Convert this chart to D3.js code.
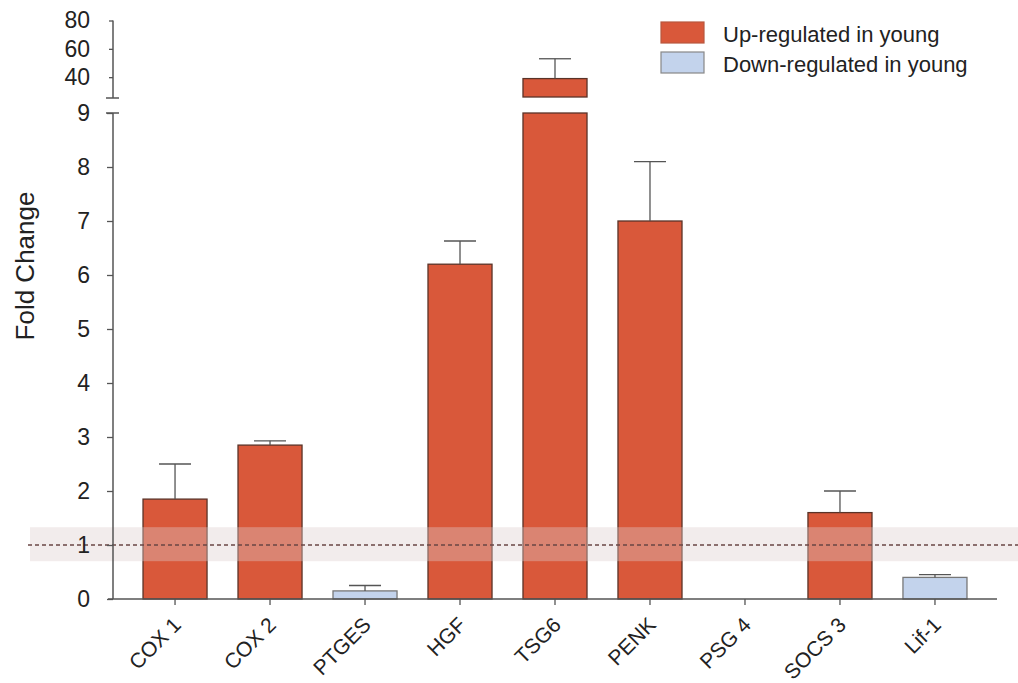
<!DOCTYPE html>
<html><head><meta charset="utf-8">
<script src="https://cdn.jsdelivr.net/npm/d3@7"></script>
<style>body{margin:0;background:#fff}svg{display:block;font-family:"Liberation Sans",Arial,sans-serif}</style>
</head><body><svg id="c" width="1018" height="683"></svg>
<script>
const categories = ["COX 1","COX 2","PTGES","HGF","TSG6","PENK","PSG 4","SOCS 3","Lif-1"];
const values     = [1.85, 2.85, 0.15, 6.2, 39, 7.0, 0, 1.6, 0.4];
const errorTops  = [2.5, 2.93, 0.25, 6.63, 53, 8.1, 0, 2.0, 0.45];
const direction  = ["up","up","down","up","up","up","up","up","down"];
const lowerTicks = [0,1,2,3,4,5,6,7,8,9];
const upperTicks = [40,60,80];
const legendLabels = ["Up-regulated in young","Down-regulated in young"];
const bandRange = [0.7, 1.33];
const refLine = 1;

const svg = d3.select("#c");
const colors = {up:"#d9583a", down:"#c3d3ec"};
const strokes = {up:"#5a3328", down:"#777"};

const x = d3.scaleBand().domain(categories).range([113, 997]).paddingInner(0.326).paddingOuter(0.316);
const yL = d3.scaleLinear().domain([0, 9]).range([599, 113]);
const yU = d3.scaleLinear().domain([25.3, 80]).range([98, 20.5]);

const g = svg.append("g");
categories.forEach((c, i) => {
  const v = values[i];
  const d = direction[i];
  const lowTop = Math.min(v, 9);
  if (v > 0) {
    g.append("rect").attr("x", x(c)).attr("width", x.bandwidth())
      .attr("y", yL(lowTop)).attr("height", yL(0) - yL(lowTop))
      .attr("fill", colors[d]).attr("stroke", strokes[d]).attr("stroke-width", 1.3);
  }
  if (v > 9) {
    g.append("rect").attr("x", x(c)).attr("width", x.bandwidth())
      .attr("y", yU(v)).attr("height", yU(yU.domain()[0]) - yU(v) - 1)
      .attr("fill", colors[d]).attr("stroke", strokes[d]).attr("stroke-width", 1.3);
  }
  if (errorTops[i] > v) {
    const cx = x(c) + x.bandwidth() / 2;
    const yb = v > 9 ? yU(v) : yL(v);
    const yt = errorTops[i] > 9 ? yU(errorTops[i]) : yL(errorTops[i]);
    g.append("line").attr("x1", cx).attr("x2", cx).attr("y1", yb).attr("y2", yt)
      .attr("stroke", "#555").attr("stroke-width", 1.3);
    g.append("line").attr("x1", cx - 16).attr("x2", cx + 16).attr("y1", yt).attr("y2", yt)
      .attr("stroke", "#555").attr("stroke-width", 1.3);
  }
});

svg.append("rect").attr("x", 30).attr("width", 988)
  .attr("y", yL(bandRange[1])).attr("height", yL(bandRange[0]) - yL(bandRange[1]))
  .attr("fill", "rgb(222,204,204)").attr("opacity", 0.38);
svg.append("line").attr("x1", 28).attr("x2", 1018).attr("y1", yL(refLine)).attr("y2", yL(refLine))
  .attr("stroke", "#6a4644").attr("stroke-width", 1.3).attr("stroke-dasharray", "4,3");

const axisColor = "#555";
const lowerAxis = svg.append("g").attr("transform", "translate(113,0)")
  .call(d3.axisLeft(yL).tickValues(lowerTicks).tickSize(6).tickPadding(17).tickFormat(d3.format("d")));
const upperAxis = svg.append("g").attr("transform", "translate(113,0)")
  .call(d3.axisLeft(yU).tickValues(upperTicks).tickSize(4).tickPadding(19).tickFormat(d3.format("d")));
[lowerAxis, upperAxis].forEach(a => {
  a.select(".domain").remove();
  a.selectAll("line").attr("stroke", axisColor).attr("stroke-width", 1.3);
  a.selectAll("text").attr("font-size", 23).attr("fill", "#222").attr("font-family", "Liberation Sans, Arial, sans-serif");
});
svg.append("line").attr("x1", 113).attr("x2", 113).attr("y1", yL(9)).attr("y2", yL(0)).attr("stroke", axisColor).attr("stroke-width", 1.5);
svg.append("line").attr("x1", 113).attr("x2", 113).attr("y1", yU(80)).attr("y2", 98).attr("stroke", axisColor).attr("stroke-width", 1.5);
svg.append("line").attr("x1", 106).attr("x2", 119).attr("y1", 98).attr("y2", 98).attr("stroke", axisColor).attr("stroke-width", 1.5);
svg.append("line").attr("x1", 106).attr("x2", 119).attr("y1", yL(9)).attr("y2", yL(9)).attr("stroke", axisColor).attr("stroke-width", 1.5);

const xAxis = svg.append("g").attr("transform", `translate(0,${yL(0)})`)
  .call(d3.axisBottom(x).tickSize(6).tickSizeOuter(0));
xAxis.select(".domain").attr("stroke", axisColor).attr("stroke-width", 1.5).attr("d", "M108,0H997");
xAxis.selectAll("line").attr("stroke", axisColor).attr("stroke-width", 1.3);
xAxis.selectAll("text").attr("font-size", 21).attr("fill", "#222")
  .attr("font-family", "Liberation Sans, Arial, sans-serif")
  .attr("text-anchor", "end").attr("dy", "0.35em")
  .attr("transform", "translate(2,22) rotate(-45)").attr("y", 0).attr("x", 0);

svg.append("text").attr("transform", "translate(34,266) rotate(-90)")
  .attr("text-anchor", "middle").attr("font-size", 26).attr("fill", "#222").text("Fold Change");

const leg = svg.append("g");
legendLabels.forEach((t, i) => {
  const d = i === 0 ? "up" : "down";
  leg.append("rect").attr("x", 661).attr("y", 22 + i * 30).attr("width", 43).attr("height", 21)
    .attr("fill", colors[d]).attr("stroke", i === 0 ? "#b8583e" : "#888").attr("stroke-width", 1.2);
  leg.append("text").attr("x", 723).attr("y", 42 + i * 30).attr("font-size", 22).attr("fill", "#222").text(t);
});
</script></body></html>
